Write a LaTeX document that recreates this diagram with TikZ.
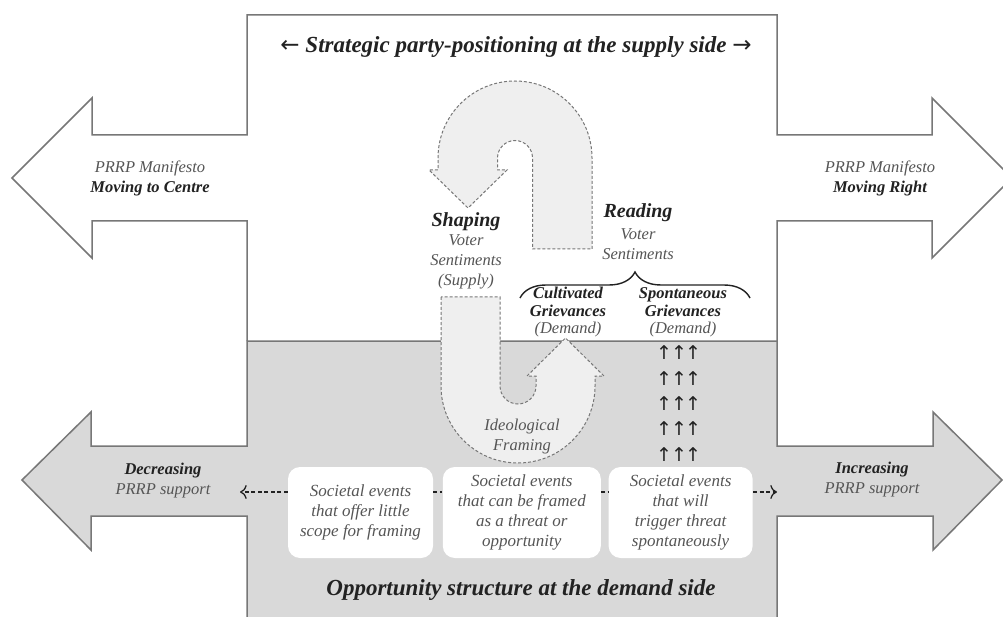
\documentclass[tikz,border=0pt]{standalone}
\usepackage{fontspec}
\setmainfont{Liberation Serif}
\newfontfamily\arrowfont{DejaVu Sans}
\usepackage{xcolor}
\usetikzlibrary{arrows, arrows.meta, positioning, shapes, decorations.pathreplacing}

\definecolor{framegray}{HTML}{777777}
\definecolor{demandgray}{HTML}{D9D9D9}
\definecolor{turnfill}{HTML}{EFEFEF}
\definecolor{softtext}{HTML}{555555}
\definecolor{darktext}{HTML}{222222}

\begin{document}
\begin{tikzpicture}[x=1pt, y=-1pt, thick, node distance=9pt,
    frame/.style={draw=framegray, line width=1.5pt},
    turnarrow/.style={draw=framegray, fill=turnfill, line width=1pt, dash pattern=on 3pt off 2pt},
    eventbox/.style={fill=white, rounded corners=12pt, minimum height=91pt, inner sep=0pt, align=center, text=softtext, font=\itshape\fontsize{17}{20}\selectfont},
    heading/.style={inner sep=0pt, text=darktext, font=\bfseries\itshape\fontsize{23}{26}\selectfont},
    keyword/.style={inner sep=0pt, text=darktext, font=\bfseries\itshape\fontsize{20}{22}\selectfont},
    sublabel/.style={inner sep=0pt, align=center, text=darktext, font=\bfseries\itshape\fontsize{16.5}{17.5}\selectfont},
    note/.style={inner sep=0pt, align=center, text=softtext, font=\itshape\fontsize{16.5}{20}\selectfont},
    upmark/.style={inner sep=0pt, text=darktext, font=\arrowfont\fontsize{19}{19}\selectfont},
    link/.style={dash pattern=on 4pt off 2.5pt, line width=1.3pt, draw=darktext, -{To[scale=1.5]}},
]
        \fill[white] (0,0) rectangle (1003,617);
        \useasboundingbox (0,0) rectangle (1003,617);

        % Supply side frame
        \draw[frame, fill=white] (247,341) -- (247,221) -- (92,221) -- (92,258) -- (12,178) -- (92,98) -- (92,135) -- (247,135) -- (247,15) -- (777,15) -- (777,135) -- (932,135) -- (932,98) -- (1012,178) -- (932,258) -- (932,221) -- (777,221) -- (777,341);

        % Demand side frame
        \draw[frame, fill=demandgray] (247,617) -- (247,516) -- (91,516) -- (91,550) -- (22,480) -- (91,412) -- (91,446) -- (247,446) -- (247,341) -- (777,341) -- (777,446) -- (933,446) -- (933,412) -- (1002,480) -- (933,550) -- (933,516) -- (777,516) -- (777,617);

        % Turning arrows
        \draw[turnarrow] (592,249) -- (592,158) arc[start angle=0, end angle=-180, radius=77] -- (438,170) -- (429,170) -- (468,208) -- (507,170) -- (497.5,170) -- (497.5,158) arc[start angle=-180, end angle=0, radius=17.5] -- (532.5,249) -- cycle;
        \draw[turnarrow] (441,297) -- (441,386) arc[start angle=180, end angle=0, radius=77] -- (595,376) -- (604,376) -- (565.5,338) -- (527,376) -- (536,376) -- (536,386) arc[start angle=0, end angle=180, radius=18] -- (500,297) -- cycle;

        % Titles
        \node (supply) [heading] at (516,47) {{\arrowfont\mdseries\upshape ←} Strategic party-positioning at the supply side {\arrowfont\mdseries\upshape →}};
        \node (demand) [heading] at (521,590) {Opportunity structure at the demand side};

        % Manifesto arrows
        \node (centre) [note] at (150,178) {PRRP Manifesto\\\textcolor{darktext}{\bfseries Moving to Centre}};
        \node (right) [note] at (880,178) {PRRP Manifesto\\\textcolor{darktext}{\bfseries Moving Right}};

        % Support arrows
        \node (decreasing) [note] at (163,481) {\textcolor{darktext}{\bfseries Decreasing}\\PRRP support};
        \node (increasing) [note] at (872,480) {\textcolor{darktext}{\bfseries Increasing}\\PRRP support};

        % Shaping and reading
        \node (shaping) [keyword] at (466,222) {Shaping};
        \node (shapingnote) [note] at (466,262) {Voter\\Sentiments\\(Supply)};
        \node (reading) [keyword] at (638,213) {Reading};
        \node (readingnote) [note] at (638,244) {Voter\\Sentiments};
        \draw[line width=1.4pt, draw=darktext, decorate, decoration={brace, amplitude=26pt}] (520,298) -- (750,298);

        \node (cultivated) [sublabel] at (568,302) {Cultivated\\Grievances};
        \node (cultivateddemand) [note] at (568,330) {(Demand)};
        \node (spontaneous) [sublabel] at (683,302) {Spontaneous\\Grievances};
        \node (spontaneousdemand) [note] at (683,330) {(Demand)};
        \node (framing) [note] at (522,437) {Ideological\\Framing};

        \foreach \col in {664,679,693}
            \foreach \row in {353,379,404,429,455}
                \node (up-\col-\row) [upmark] at (\col,\row) {↑};

        % Societal events
        \node (little) [eventbox, minimum width=145pt] at (360.5,512.5) {Societal events\\that offer little\\scope for framing};
        \node (framed) [eventbox, minimum width=158pt, right=of little] {Societal events\\that can be framed\\as a threat or\\opportunity};
        \node (trigger) [eventbox, minimum width=144pt, right=7pt of framed] {Societal events\\that will\\trigger threat\\spontaneously};

        \coordinate (lessend) at (240,492);
        \coordinate (moreend) at (777,492);
        \draw[link] (little.west |- lessend) -- (lessend);
        \draw[link, -] (little.east |- lessend) -- (framed.west |- lessend);
        \draw[link, -] (framed.east |- lessend) -- (trigger.west |- lessend);
        \draw[link] (trigger.east |- moreend) -- (moreend);
\end{tikzpicture}
\end{document}
